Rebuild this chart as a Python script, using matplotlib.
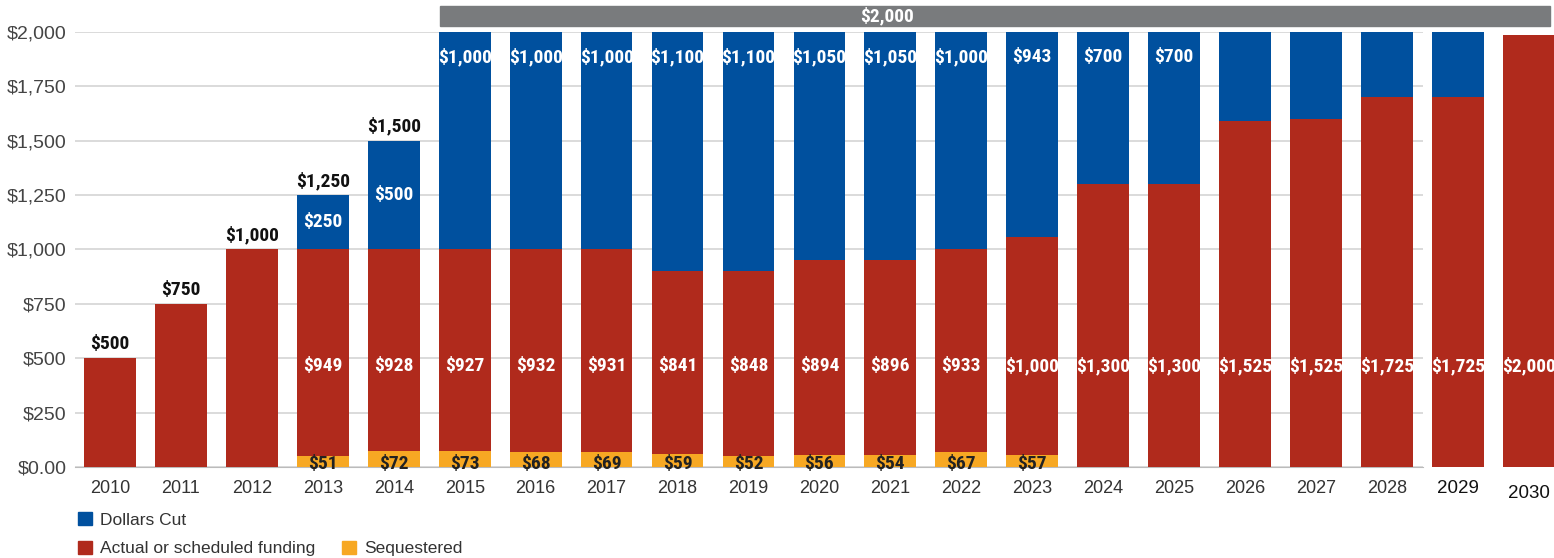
import matplotlib.pyplot as plt
from matplotlib import font_manager
from matplotlib.patches import Patch, Rectangle

years = [str(y) for y in range(2010, 2031)]

# segment heights as drawn (bottom to top)
sequestered = [0, 0, 0, 51, 72, 73, 68, 69, 59, 52, 56, 54, 67, 57,
               0, 0, 0, 0, 0, 0, 0]
funding = [500, 750, 1000, 949, 928, 927, 932, 931, 841, 848, 894, 896, 933, 1000,
           1300, 1300, 1590, 1600, 1700, 1700, 1985]
cut = [0, 0, 0, 250, 500, 1000, 1000, 1000, 1100, 1100, 1050, 1050, 1000, 943,
       700, 700, 410, 400, 300, 300, 0]

# texts printed on the bars
total_labels = ['$500', '$750', '$1,000', '$1,250', '$1,500']
cut_labels = ['', '', '', '$250', '$500', '$1,000', '$1,000', '$1,000', '$1,100', '$1,100',
              '$1,050', '$1,050', '$1,000', '$943', '$700', '$700', '', '', '', '', '']
funding_labels = ['', '', '', '$949', '$928', '$927', '$932', '$931', '$841', '$848',
                  '$894', '$896', '$933', '$1,000', '$1,300', '$1,300', '$1,525',
                  '$1,525', '$1,725', '$1,725', '$2,000']
seq_labels = ['', '', '', '$51', '$72', '$73', '$68', '$69', '$59', '$52', '$56',
              '$54', '$67', '$57', '', '', '', '', '', '', '']
cap_label = '$2,000'

BLUE = '#00509e'
RED = '#b02a1c'
ORANGE = '#f7a823'
GREY_BAR = '#797b7d'

# pick a narrow bold face for the value labels
installed = {f.name for f in font_manager.fontManager.ttflist}
narrow = 'DejaVu Sans'
for c in ['Roboto Condensed', 'Archivo Narrow', 'PT Sans Narrow', 'Sofia Sans Condensed',
          'Saira SemiCondensed', 'Oswald']:
    if c in installed:
        narrow = c
        break
cond = [narrow, 'DejaVu Sans']

plt.rcParams['font.family'] = ['Liberation Sans', 'DejaVu Sans']

fig = plt.figure(figsize=(15.54, 5.58), dpi=100)
ax = fig.add_axes([0.0483, 0.163, 0.9517, 0.78])

x = list(range(len(years)))
w = 0.73
ax.bar(x, sequestered, w, color=ORANGE, zorder=3)
ax.bar(x, funding, w, bottom=sequestered, color=RED, zorder=3)
bottom3 = [s + f for s, f in zip(sequestered, funding)]
ax.bar(x, cut, w, bottom=bottom3, color=BLUE, zorder=3)

# gridlines only across the original chart area
grid_end = 18.51
for v in range(0, 2001, 250):
    ax.hlines(v, -0.5, grid_end, color='#d4d4d4', lw=1.2, zorder=1)
ax.vlines([i + 0.5 for i in range(-1, 18)], -22, 0, color='#cccccc', lw=1, zorder=1)

fs = 14
for i in range(len(years)):
    if i < len(total_labels):
        top = sequestered[i] + funding[i] + cut[i]
        ax.text(i, top + 22, total_labels[i], ha='center', va='bottom', fontsize=fs,
                fontweight='bold', family=cond, color='#111111', zorder=4)
    if cut_labels[i]:
        if i >= 5:
            yy = 1885
        else:
            yy = bottom3[i] + cut[i] / 2
        ax.text(i, yy, cut_labels[i], ha='center', va='center', fontsize=fs,
                fontweight='bold', family=cond, color='white', zorder=4)
    if funding_labels[i]:
        ax.text(i, 465, funding_labels[i], ha='center', va='center', fontsize=fs,
                fontweight='bold', family=cond, color='white', zorder=4)
    if seq_labels[i]:
        ax.text(i, 14, seq_labels[i], ha='center', va='center', fontsize=fs,
                fontweight='bold', family=cond, color='#222222', zorder=4)

# grey cap bar over the $2,000 years
ax.add_patch(Rectangle((4.65, 2028), 15.65, 92, color=GREY_BAR, clip_on=False, zorder=3))
ax.text(10.95, 2072, cap_label, ha='center', va='center', fontsize=fs,
        fontweight='bold', family=cond, color='white', zorder=4)

ax.set_xlim(-0.493, 20.355)
ax.set_ylim(0, 2000)
ax.set_yticks(range(0, 2001, 250))
ax.set_yticklabels(['$0.00', '$250', '$500', '$750', '$1,000', '$1,250', '$1,500',
                    '$1,750', '$2,000'])
ax.set_xticks(x)
ax.set_xticklabels(years)
ax.tick_params(axis='y', length=0, labelsize=14, labelcolor='#444444', pad=6)
ax.tick_params(axis='x', length=0, labelsize=13, labelcolor='#333333', pad=9)
for lab in ax.get_xticklabels()[-2:]:
    lab.set_color('#111111')
    lab.set_fontsize(13.5)
ax.get_xticklabels()[-1].set_y(-0.012)
for s in ['top', 'right', 'left']:
    ax.spines[s].set_visible(False)
ax.spines['bottom'].set_color('#bbbbbb')
ax.spines['bottom'].set_bounds(-0.5, grid_end)

handles = [Patch(color=BLUE, label='Dollars Cut'),
           Patch(color=RED, label='Actual or scheduled funding'),
           Patch(visible=False, label=''),
           Patch(color=ORANGE, label='Sequestered')]
fig.legend(handles=handles, ncol=2, loc='lower left', bbox_to_anchor=(0.04, -0.025),
           frameon=False, fontsize=12.5, handlelength=0.8, handleheight=0.8,
           handletextpad=0.5, columnspacing=1.5, labelspacing=0.75, labelcolor='#333333')

fig.savefig('out.png', dpi=100)
